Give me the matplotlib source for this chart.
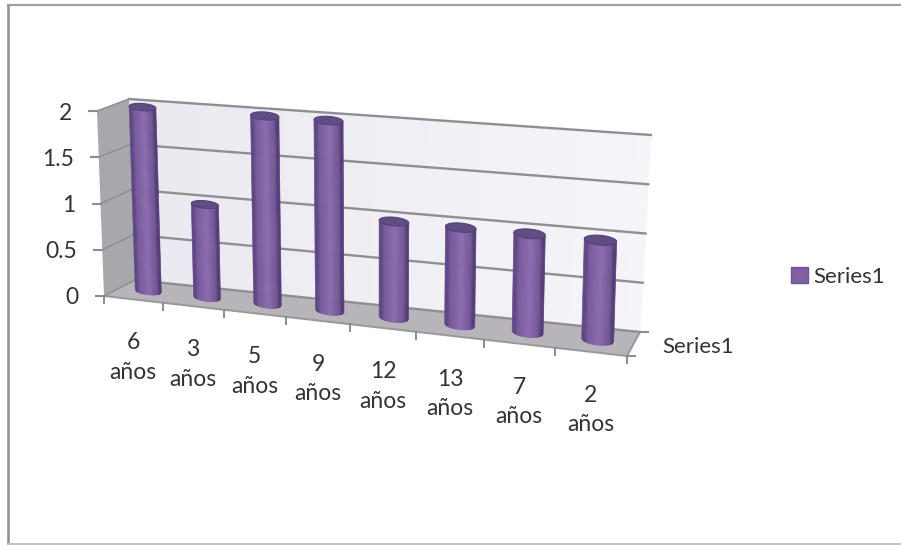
"""Column chart with cylinders on a perspective floor, counts per age."""

import matplotlib
matplotlib.use("Agg")
import matplotlib.pyplot as plt
import numpy as np
from matplotlib.collections import PolyCollection
from matplotlib.colors import to_rgb
from matplotlib.patches import Polygon, Rectangle

CATEGORIES = ["6\naños", "3\naños", "5\naños", "9\naños",
              "12\naños", "13\naños", "7\naños", "2\naños"]
VALUES = [2, 1, 2, 2, 1, 1, 1, 1]
VALUE_TICKS = [0, 0.5, 1, 1.5, 2]
VALUE_TICK_LABELS = ["0", "0.5", "1", "1.5", "2"]
SERIES_NAME = "Series1"

WIDTH, HEIGHT = 901, 545
VMAX = 2.0
FONT = "Lato"
TEXT_COLOR = "#333333"

# Corners of the plot box in pixels, (along, value, depth); depth 0 is the back wall
CORNERS = {
    (0, 0, 0): (135, 280), (1, 0, 0): (640, 332),
    (1, 1, 0): (651, 135), (0, 1, 0): (129, 99),
    (0, 0, 1): (104, 296), (1, 0, 1): (627, 356),
    (1, 1, 1): (629, 151), (0, 1, 1): (97, 111),
}
FORESHORTEN = 1.124

BAR_RADIUS = 0.028
BAR_STOPS = [0.0, 0.07, 0.2, 0.55, 0.85, 0.95, 1.0]
BAR_COLORS = ["#6a5190", "#59427e", "#775a9c", "#8b6cb0", "#725596", "#4f3a72", "#5a4480"]


def project(u, v, d):
    """Map along-axis fraction, value and depth fraction to pixel coordinates."""
    u, v, d = np.broadcast_arrays(np.asarray(u, float), np.asarray(v, float), np.asarray(d, float))
    f = u / (u + FORESHORTEN * (1 - u))
    h = v / VMAX
    out = np.zeros(u.shape + (2,))
    for (a, b, c), xy in CORNERS.items():
        w = (f if a else 1 - f) * (h if b else 1 - h) * (d if c else 1 - d)
        out += w[..., None] * np.array(xy, float)
    return out


def draw_box(ax):
    # back wall, slightly lighter towards the right
    edges = np.linspace(0, 1, 41)
    start, end = np.array(to_rgb("#ebe9f0")), np.array(to_rgb("#f5f4f8"))
    strips, colors = [], []
    for a, b in zip(edges[:-1], edges[1:]):
        strips.append(project([a, b, b, a], [0, 0, VMAX, VMAX], 0))
        colors.append(start + (end - start) * a)
    ax.add_collection(PolyCollection(strips, facecolors=colors, edgecolors=colors, linewidths=0.4, zorder=1))

    # side wall and floor
    ax.add_patch(Polygon(project([0, 0, 0, 0], [0, VMAX, VMAX, 0], [1, 1, 0, 0]),
                         facecolor="#a8a7ab", edgecolor="none", zorder=1))
    ax.add_patch(Polygon(project([0, 1, 1, 0], 0, [0, 0, 1, 1]),
                         facecolor="#b7b5ba", edgecolor="none", zorder=2))

    # gridlines run along the back wall and the side wall
    for tick, label in zip(VALUE_TICKS, VALUE_TICK_LABELS):
        line = project([0, 1], tick, 0)
        ax.plot(line[:, 0], line[:, 1], color="#8f8e92", lw=1.7, zorder=3)
        side = project([0, 0], tick, [0, 1])
        ax.plot(side[:, 0], side[:, 1], color="#8f8e92", lw=1.1, zorder=3)
        front = project(0, tick, 1)
        ax.plot([front[0] - 8, front[0]], [front[1], front[1]], color="#8c8b8f", lw=1.5, zorder=3)
        ax.text(front[0] - 25, front[1], label, ha="right", va="center_baseline",
                fontsize=16.5, family=FONT, color=TEXT_COLOR)

    # floor edges
    for us, vs, ds in [([0, 1], 0, 1), ([1, 1], 0, [1, 0])]:
        edge = project(us, vs, ds)
        ax.plot(edge[:, 0], edge[:, 1], color="#98979b", lw=1.4, zorder=3)
    for d in [0, 1]:
        end = project(1, 0, d)
        ax.plot([end[0], end[0] + 8], [end[1], end[1]], color="#8c8b8f", lw=1.4, zorder=3)


def draw_categories(ax):
    n = len(CATEGORIES)
    for i in range(n + 1):
        base = project(i / n, 0, 1)
        ax.plot([base[0], base[0]], [base[1], base[1] + 7], color="#8c8b8f", lw=1.4, zorder=3)
    for i, label in enumerate(CATEGORIES):
        base = project((i + 0.5) / n, 0, 1)
        ax.text(base[0], base[1] + 33, label, ha="center", va="top", fontsize=16.5,
                family=FONT, color=TEXT_COLOR, linespacing=1.5)


def draw_cylinder(ax, center, value):
    """Front of the cylinder as shaded strips, then the cap on top."""
    base_c = project(center, 0, 0.5)
    base_r = project(center + BAR_RADIUS, 0, 0.5)
    top_c = project(center, value, 0.5)
    top_r = project(center + BAR_RADIUS, value, 0.5)
    ry = 3.5 + 1.5 * center

    # outline points are worked out on screen so the ellipses stay level
    s = np.linspace(-1, 1, 29)
    bulge = np.sqrt(1 - s ** 2)[:, None] * np.array([0, ry])
    bottom = base_c + s[:, None] * (base_r - base_c) + bulge
    top = top_c + s[:, None] * (top_r - top_c) + bulge

    stops = np.array([to_rgb(c) for c in BAR_COLORS])
    strips, colors = [], []
    for j in range(len(s) - 1):
        strips.append([bottom[j], bottom[j + 1], top[j + 1], top[j]])
        pos = (s[j] + s[j + 1] + 2) / 4
        colors.append([np.interp(pos, BAR_STOPS, stops[:, k]) for k in range(3)])
    ax.add_collection(PolyCollection(strips, facecolors=colors, edgecolors=colors, linewidths=0.5, zorder=5))

    ring = np.linspace(0, 2 * np.pi, 60)
    cap = (top_c + np.cos(ring)[:, None] * (top_r - top_c)
           + np.sin(ring)[:, None] * np.array([0, ry]))
    ax.add_patch(Polygon(cap, facecolor="#624c84", edgecolor="#54407a", lw=0.8, zorder=6))


def draw_legend(ax):
    ax.add_patch(Rectangle((791, 267), 17, 16, facecolor="#7f5fa3", edgecolor="#6d5790", lw=1, zorder=3))
    ax.text(813, 275, SERIES_NAME, ha="left", va="center_baseline", fontsize=16,
            family=FONT, color=TEXT_COLOR)
    ax.text(662, 345, SERIES_NAME, ha="left", va="center_baseline", fontsize=16,
            family=FONT, color=TEXT_COLOR)


def main():
    fig = plt.figure(figsize=(WIDTH / 100, HEIGHT / 100), dpi=100)
    ax = fig.add_axes([0, 0, 1, 1])
    ax.set_xlim(0, WIDTH)
    ax.set_ylim(HEIGHT, 0)
    ax.axis("off")

    # chart area border
    ax.plot([8, 8], [HEIGHT, 5], color="#8f8f8f", lw=1.8, zorder=2)
    ax.plot([8, WIDTH], [5, 5], color="#a0a0a0", lw=1.6, zorder=2)
    ax.plot([8, WIDTH], [544, 544], color="#c4c4c4", lw=1.4, zorder=2)

    draw_box(ax)
    draw_categories(ax)
    n = len(VALUES)
    for i, value in enumerate(VALUES):
        draw_cylinder(ax, (i + 0.5) / n, value)
    draw_legend(ax)

    fig.savefig("out.png", dpi=100)
    plt.close(fig)


if __name__ == "__main__":
    main()
